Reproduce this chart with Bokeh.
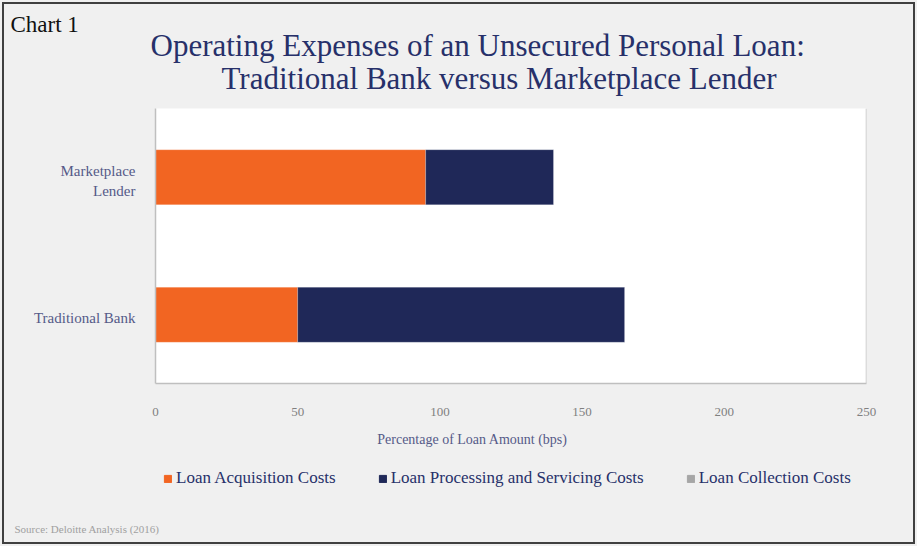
from bokeh.plotting import figure
from bokeh.layouts import column
from bokeh.models import (Range1d, Legend, LegendItem, Title, Label,
                          Span, FixedTicker, ColumnDataSource)
from bokeh.embed import file_html
from bokeh.resources import INLINE

lenders = ["Traditional Bank", "Marketplace Lender"]
acquisition = [50, 95]
processing = [115, 45]
collection = [0, 0]
series = ["Loan Acquisition Costs", "Loan Processing and Servicing Costs", "Loan Collection Costs"]
colors = ["#f26522", "#1f2858", "#a6a6a6"]
x_ticks = [0, 50, 100, 150, 200, 250]
y_label_lines = [["Traditional Bank"], ["Marketplace", "Lender"]]

FONT = "Liberation Serif"
LABEL_COLOR = "#555a88"
TITLE_COLOR = "#27306a"

# category slots: one unit per lender, bar at the centre of its slot
slot = [i + 0.5 for i in range(len(lenders))]
src = ColumnDataSource(dict(lender=lenders, y=slot, acq=acquisition, proc=processing, coll=collection))

# ---------------- main chart ----------------
p = figure(width=917, height=425, y_range=Range1d(0, len(lenders)), x_range=Range1d(0, 250),
           output_backend="svg", toolbar_location=None,
           min_border_left=155, min_border_right=51, min_border_top=108, min_border_bottom=42,
           background_fill_color="white", border_fill_color=None)
p.outline_line_color = None
p.grid.visible = False

rs = p.hbar_stack(["acq", "proc", "coll"], y="y", height=0.4, color=colors, source=src,
                  line_color="white", line_alpha=0.2, line_width=1)

p.xaxis.ticker = FixedTicker(ticks=x_ticks)
p.xaxis.major_tick_line_color = None
p.xaxis.minor_tick_line_color = None
p.xaxis.axis_line_color = "#bfbfbf"
p.xaxis.axis_line_width = 1.5
p.xaxis.major_label_standoff = 18
p.xaxis.major_label_text_font = FONT
p.xaxis.major_label_text_font_size = "13px"
p.xaxis.major_label_text_color = "#808080"

# category labels (multi-line), placed around each lender's slot
line_step = 0.145
label_shift = -0.025
y_ticks, y_overrides = [], {}
for i, lines in enumerate(y_label_lines):
    n = len(lines)
    for k, txt in enumerate(lines):
        pos = round(slot[i] + label_shift + ((n - 1) / 2 - k) * line_step, 4)
        y_ticks.append(pos)
        y_overrides[pos] = txt
p.yaxis.ticker = FixedTicker(ticks=y_ticks)
p.yaxis.major_label_overrides = y_overrides
p.yaxis.major_tick_line_color = None
p.yaxis.minor_tick_line_color = None
p.yaxis.axis_line_color = "#bfbfbf"
p.yaxis.axis_line_width = 1.5
p.yaxis.major_label_standoff = 14
p.yaxis.major_label_text_font = FONT
p.yaxis.major_label_text_font_size = "15px"
p.yaxis.major_label_text_color = LABEL_COLOR

p.add_layout(Span(location=250, dimension="height", line_color="#bfbfbf", line_width=1.5))

def title(text, size, color, align="center", offset=0, standoff=0):
    return Title(text=text, align=align, offset=offset, standoff=standoff,
                 text_font=FONT, text_font_size=size, text_color=color,
                 text_font_style="normal")

# above: nearest to the frame first
p.add_layout(title("Traditional Bank versus Marketplace Lender", "31px", TITLE_COLOR,
                   align="left", offset=66, standoff=26), "above")
p.add_layout(title("Operating Expenses of an Unsecured Personal Loan:", "31px", TITLE_COLOR,
                   align="left", offset=-5, standoff=-34), "above")
p.add_layout(title("Chart 1", "23px", "#111111", align="left", offset=-145, standoff=12), "above")

# ---------------- lower strip: axis title, legend, source ----------------
p2 = figure(width=917, height=121, x_range=p.x_range, y_range=p.y_range,
            output_backend="svg", toolbar_location=None,
            x_axis_location=None, y_axis_location=None,
            min_border_left=155, min_border_right=51, min_border_top=0, min_border_bottom=30,
            background_fill_color=None, border_fill_color=None)
p2.outline_line_color = None
p2.grid.visible = False

legend_rs = p2.hbar_stack(["acq", "proc", "coll"], y="y", height=0.4, color=colors,
                          source=src, visible=False)
items = [LegendItem(label=s, renderers=[r]) for s, r in zip(series, legend_rs)]
legend = Legend(items=items, orientation="horizontal", location=(8, 28),
                background_fill_alpha=0, border_line_color=None, inactive_fill_alpha=0,
                label_text_font=FONT, label_text_font_size="17px", label_text_color=TITLE_COLOR,
                glyph_width=9, glyph_height=9, label_standoff=4, spacing=42, padding=0, margin=0)
p2.add_layout(legend, "center")

p2.add_layout(Label(text="Percentage of Loan Amount (bps)", x=317, y=77,
                    x_units="screen", y_units="screen",
                    text_font=FONT, text_font_size="14px", text_color=LABEL_COLOR,
                    text_align="center", text_baseline="middle"))
p2.add_layout(title("Source: Deloitte Analysis (2016)", "11px", "#a0a0a0", align="left",
                    offset=-141, standoff=8), "below")

layout = column(p, p2, spacing=0,
                styles={"background-color": "#f0f0f0", "outline": "2px solid #404040",
                        "outline-offset": "-4px"})

open("out.html", "w").write(file_html(layout, INLINE))
